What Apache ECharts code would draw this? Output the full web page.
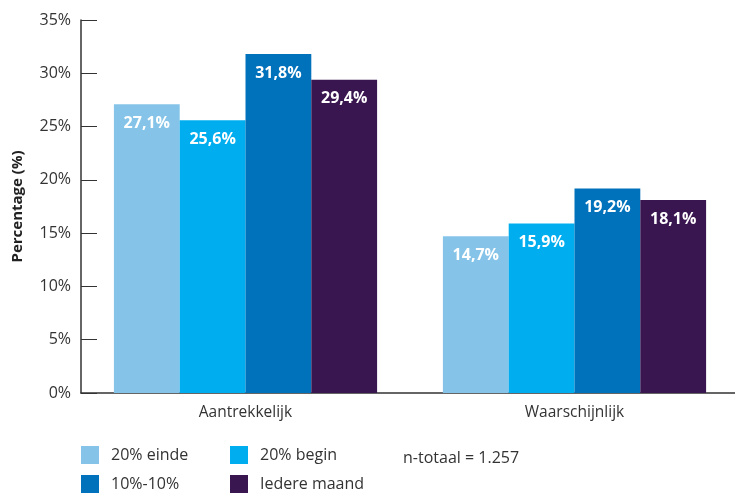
<!DOCTYPE html>
<html><head><meta charset="utf-8">
<script src="https://cdn.jsdelivr.net/npm/echarts@6/dist/echarts.min.js"></script>
<style>html,body{margin:0;padding:0;background:#fff}#c{width:735px;height:494px}</style>
</head><body><div id="c"></div>
<script>
const categories = ['Aantrekkelijk', 'Waarschijnlijk'];
const seriesNames = ['20% einde', '20% begin', '10%-10%', 'Iedere maand'];
const einde = [27.1, 14.7];
const begin = [25.6, 15.9];
const tienTien = [31.8, 19.2];
const iedereMaand = [29.4, 18.1];
const colors = ['#85C4E8', '#00AEEF', '#0071BB', '#3A1650'];
const values = [einde, begin, tienTien, iedereMaand];
const font = '"Open Sans", "Noto Sans", sans-serif';

const chart = echarts.init(document.getElementById('c'));
const legendPos = [[81, 446], [230, 446], [81, 475], [230, 475]];
chart.setOption({
  animation: false,
  textStyle: { fontFamily: font },
  grid: { left: 81, top: 20, width: 658, height: 373, outerBoundsMode: 'none', containLabel: false },
  legend: seriesNames.map((n, i) => ({
    data: [n], left: legendPos[i][0], top: legendPos[i][1],
    itemWidth: 18, itemHeight: 18, itemGap: 0, icon: 'rect',
    textStyle: { fontFamily: font, fontSize: 16, color: '#333', padding: [0, 0, 0, 7] },
    padding: 0
  })),
  graphic: [{
    type: 'text', left: 403, top: 450,
    style: { text: 'n-totaal = 1.257', font: '16px ' + font, fill: '#333' }
  }],
  xAxis: {
    type: 'category', data: categories,
    axisLine: { lineStyle: { color: '#333', width: 1.5 } },
    axisTick: { inside: true, length: 8, lineStyle: { color: '#333' } },
    axisLabel: { fontSize: 15.5, color: '#333', margin: 12, fontFamily: font }
  },
  yAxis: {
    type: 'value', min: 0, max: 35, interval: 5,
    name: 'Percentage (%)', nameLocation: 'middle', nameGap: 56, nameRotate: 90,
    nameTextStyle: { fontSize: 15, fontWeight: 'bold', color: '#222', fontFamily: font },
    axisLine: { show: true, lineStyle: { color: '#333', width: 1.5 } },
    axisTick: { show: true, inside: true, length: 16, lineStyle: { color: '#333' } },
    splitLine: { show: false },
    axisLabel: { formatter: '{value}%', fontSize: 16, color: '#333', margin: 10, fontFamily: font }
  },
  series: seriesNames.map((n, i) => ({
    name: n, type: 'bar', data: values[i],
    barGap: 0, barCategoryGap: '20%',
    itemStyle: { color: colors[i] },
    label: {
      show: true, position: 'insideTop', distance: 11,
      formatter: p => p.value.toFixed(1).replace('.', ',') + '%',
      color: '#fff', fontWeight: 'bold', fontSize: 16, fontFamily: font
    }
  }))
});
</script></body></html>
